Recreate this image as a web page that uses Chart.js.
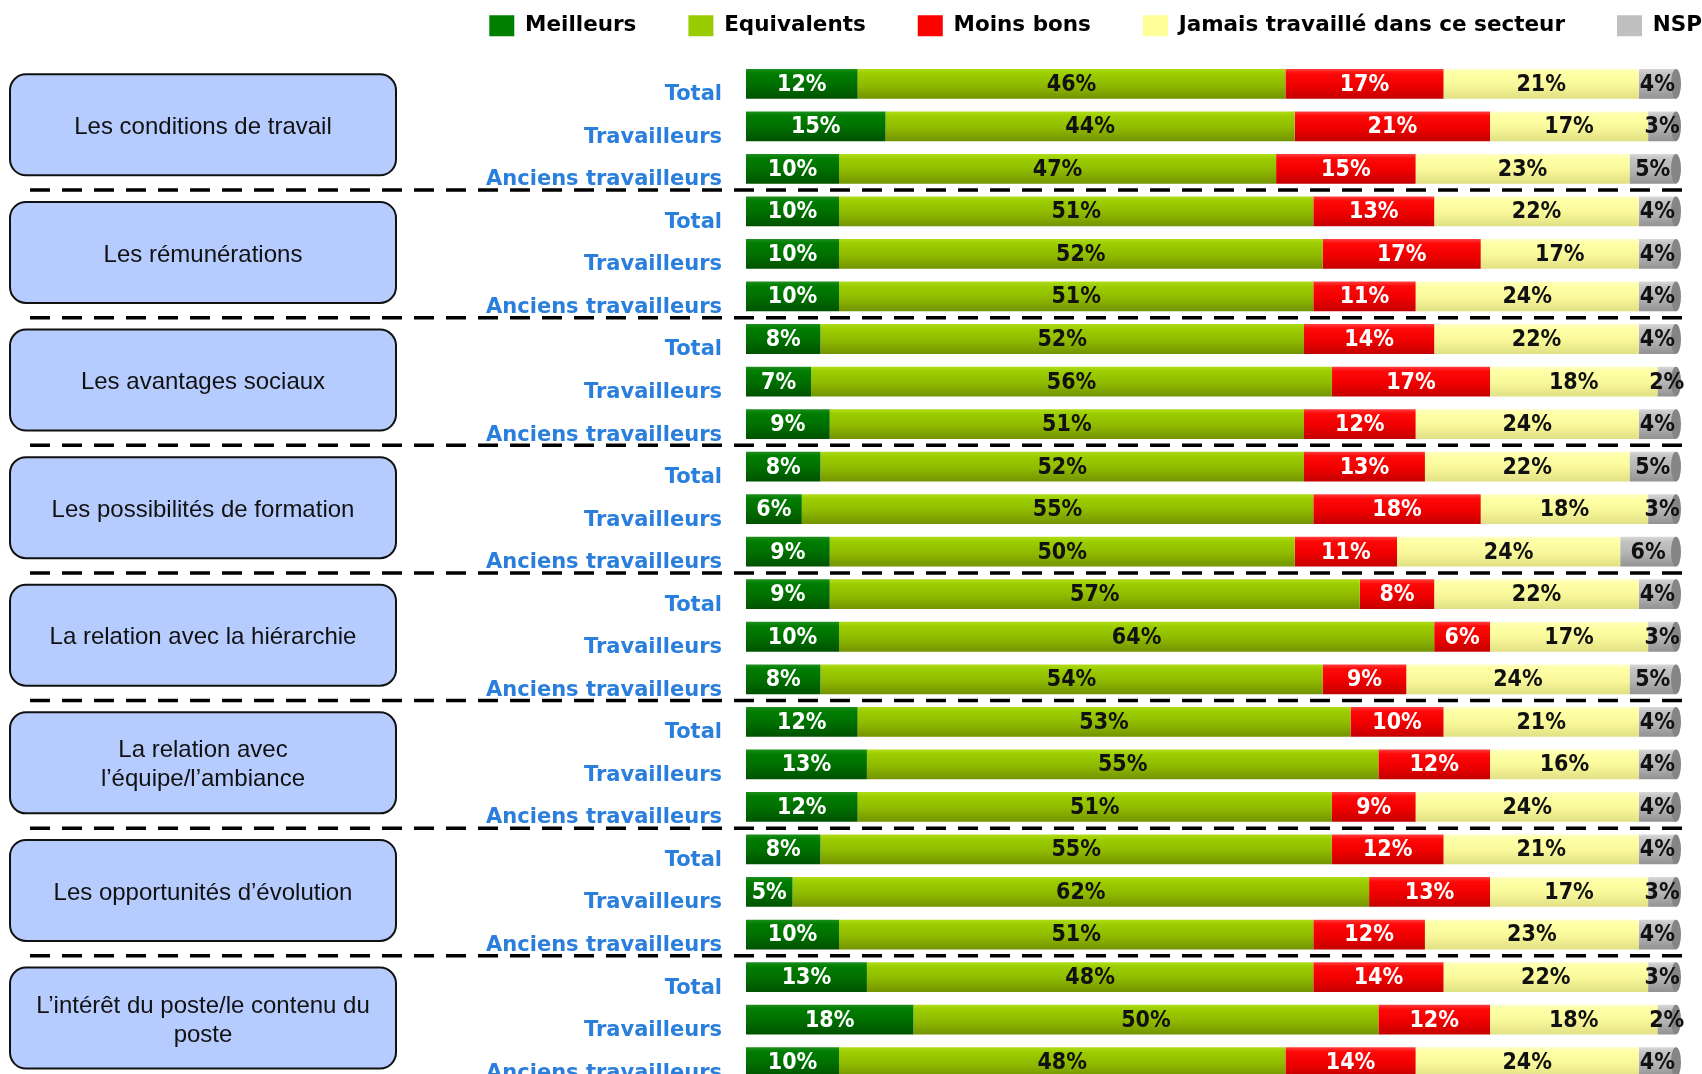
<!DOCTYPE html>
<html lang="fr">
<head>
<meta charset="utf-8">
<title>Comparaison par thème</title>
<script src="https://cdn.jsdelivr.net/npm/chart.js@4.4.1/dist/chart.umd.min.js"></script>
<style>
  html, body { margin: 0; padding: 0; background: #fff; overflow: hidden; }
  #wrap { width: 1702px; height: 1096px; }
</style>
</head>
<body>
<div id="wrap"><canvas id="myChart" width="1702" height="1096"></canvas></div>
<script>
// themes (left boxes) and the three sub rows of each theme
const themes = [
    'Les conditions de travail',
    'Les rémunérations',
    'Les avantages sociaux',
    'Les possibilités de formation',
    'La relation avec la hiérarchie',
    'La relation avec\nl’équipe/l’ambiance',
    'Les opportunités d’évolution',
    'L’intérêt du poste/le contenu du\nposte'
];
const groups = ['Total', 'Travailleurs', 'Anciens travailleurs'];

// values in %, one per row (theme x group), top to bottom
const meilleurs   = [12, 15, 10, 10, 10, 10, 8, 7, 9, 8, 6, 9, 9, 10, 8, 12, 13, 12, 8, 5, 10, 13, 18, 10];
const equivalents = [46, 44, 47, 51, 52, 51, 52, 56, 51, 52, 55, 50, 57, 64, 54, 53, 55, 51, 55, 62, 51, 48, 50, 48];
const moinsBons   = [17, 21, 15, 13, 17, 11, 14, 17, 12, 13, 18, 11, 8, 6, 9, 10, 12, 9, 12, 13, 12, 14, 12, 14];
const jamais      = [21, 17, 23, 22, 17, 24, 22, 18, 24, 22, 18, 24, 22, 17, 24, 21, 16, 24, 21, 17, 23, 22, 18, 24];
const nsp         = [4, 3, 5, 4, 4, 4, 4, 2, 4, 5, 3, 6, 4, 3, 5, 4, 4, 4, 4, 3, 4, 3, 2, 4];

const seriesNames = ['Meilleurs', 'Equivalents', 'Moins bons', 'Jamais travaillé dans ce secteur', 'NSP'];
const rowLabels = themes.flatMap(() => groups);

const palette = [
    { flat: '#008000', stops: ['#1e8e1e', '#007e00', '#006e00', '#005200'], text: '#ffffff' },
    { flat: '#99cc00', stops: ['#b0dc18', '#9cce00', '#8fba00', '#739400'], text: '#111111' },
    { flat: '#ff0000', stops: ['#ff4040', '#ff0808', '#f00000', '#c40000'], text: '#ffffff' },
    { flat: '#ffff99', stops: ['#ffffc4', '#ffffa6', '#f8f89a', '#e0e084'], text: '#111111' },
    { flat: '#c0c0c0', stops: ['#d8d8d8', '#c4c4c4', '#b4b4b4', '#929292'], text: '#111111' }
];
const BAR_PCT = 0.7;

// vertical gradient per bar, gives the shiny cylinder look
function barFill(i) {
    return (c) => {
        const p = palette[i];
        if (c.type !== 'data') return p.flat;
        const y = c.chart.scales.y;
        if (!y) return p.flat;
        const band = y.getPixelForValue(1) - y.getPixelForValue(0);
        const cy = y.getPixelForValue(c.dataIndex);
        const h = band * BAR_PCT / 2;
        if (!isFinite(cy) || !isFinite(h) || h <= 0) return p.flat;
        const g = c.chart.ctx.createLinearGradient(0, cy - h, 0, cy + h);
        g.addColorStop(0, p.stops[0]);
        g.addColorStop(0.15, p.stops[1]);
        g.addColorStop(0.55, p.stops[2]);
        g.addColorStop(1, p.stops[3]);
        return g;
    };
}

// left rounded boxes + dashed separators between themes
const themeBoxes = {
    id: 'themeBoxes',
    afterDatasetsDraw(chart) {
        const ctx = chart.ctx;
        const y = chart.scales.y;
        ctx.save();
        themes.forEach((t, g) => {
            const cy = y.getPixelForValue(g * 3 + 1) - 2;
            ctx.beginPath();
            ctx.roundRect(10, cy - 50, 386, 101, 16);
            ctx.fillStyle = '#b6ccff';
            ctx.fill();
            ctx.lineWidth = 2;
            ctx.strokeStyle = '#111';
            ctx.stroke();
            ctx.fillStyle = '#111';
            ctx.font = '24px "Liberation Sans", Arial, sans-serif';
            ctx.textAlign = 'center';
            ctx.textBaseline = 'middle';
            const lines = t.split('\n');
            lines.forEach((ln, k) => {
                ctx.fillText(ln, 203, cy + 3 + (k - (lines.length - 1) / 2) * 29);
            });
        });
        ctx.setLineDash([20, 12]);
        ctx.lineWidth = 3.5;
        ctx.strokeStyle = '#000';
        for (let g = 1; g < themes.length; g++) {
            const sy = (y.getPixelForValue(g * 3 - 1) + y.getPixelForValue(g * 3)) / 2;
            ctx.beginPath();
            ctx.moveTo(30, sy);
            ctx.lineTo(1690, sy);
            ctx.stroke();
        }
        ctx.restore();
    }
};

// percent labels inside bars and the grey end cap
const valueLabels = {
    id: 'valueLabels',
    afterDatasetsDraw(chart) {
        const ctx = chart.ctx;
        ctx.save();
        const last = chart.getDatasetMeta(chart.data.datasets.length - 1);
        last.data.forEach((bar) => {
            if (!isFinite(bar.x) || !isFinite(bar.y)) return;
            ctx.beginPath();
            ctx.ellipse(bar.x, bar.y, 5, bar.height / 2, 0, 0, Math.PI * 2);
            ctx.fillStyle = '#858585';
            ctx.fill();
        });
        ctx.font = 'bold 23px "DejaVu Sans Condensed", "DejaVu Sans", Verdana, sans-serif';
        ctx.fontStretch = 'condensed';
        ctx.textAlign = 'center';
        ctx.textBaseline = 'middle';
        chart.data.datasets.forEach((ds, i) => {
            const meta = chart.getDatasetMeta(i);
            ctx.fillStyle = palette[i].text;
            meta.data.forEach((bar, j) => {
                ctx.fillText(ds.data[j] + '%', (bar.x + bar.base) / 2, bar.y + 1);
            });
        });
        ctx.restore();
    }
};

const ctx = document.getElementById('myChart').getContext('2d');
const myChart = new Chart(ctx, {
    type: 'bar',
    data: {
        labels: rowLabels,
        datasets: [meilleurs, equivalents, moinsBons, jamais, nsp].map((values, i) => ({
            label: seriesNames[i],
            data: values,
            backgroundColor: barFill(i),
            borderWidth: 0,
            barPercentage: BAR_PCT,
            categoryPercentage: 1
        }))
    },
    options: {
        indexAxis: 'y',
        responsive: false,
        animation: false,
        layout: { padding: { top: -37, right: -52, bottom: 0, left: 0 } },
        scales: {
            x: {
                stacked: true,
                min: 0,
                max: 100,
                position: 'top',
                grid: { display: false },
                border: { display: false },
                ticks: { display: false },
                afterFit: (s) => { s.height = 16; }
            },
            y: {
                stacked: true,
                grid: { display: false, drawTicks: true, tickLength: 24 },
                border: { display: false },
                ticks: {
                    color: '#2a7fdc',
                    padding: 0,
                    labelOffset: 11,
                    font: { family: '"DejaVu Sans", Verdana, sans-serif', size: 21, weight: 'bold' }
                },
                afterFit: (s) => { s.width = 746; }
            },
            yRight: {
                type: 'category',
                position: 'right',
                grid: { display: false },
                border: { display: false },
                ticks: { display: false },
                afterFit: (s) => { s.width = 78; }
            }
        },
        plugins: {
            tooltip: { enabled: false },
            legend: {
                position: 'top',
                align: 'end',
                labels: {
                    boxWidth: 25,
                    boxHeight: 21,
                    padding: 52,
                    color: '#000',
                    font: { family: '"DejaVu Sans", Verdana, sans-serif', size: 21.5, weight: 'bold' },
                    generateLabels: (chart) => Chart.defaults.plugins.legend.labels.generateLabels(chart)
                        .map((item, i) => ({ ...item, fillStyle: palette[i].flat, strokeStyle: palette[i].flat, lineWidth: 0 }))
                }
            }
        }
    },
    plugins: [themeBoxes, valueLabels]
});
</script>
</body>
</html>
